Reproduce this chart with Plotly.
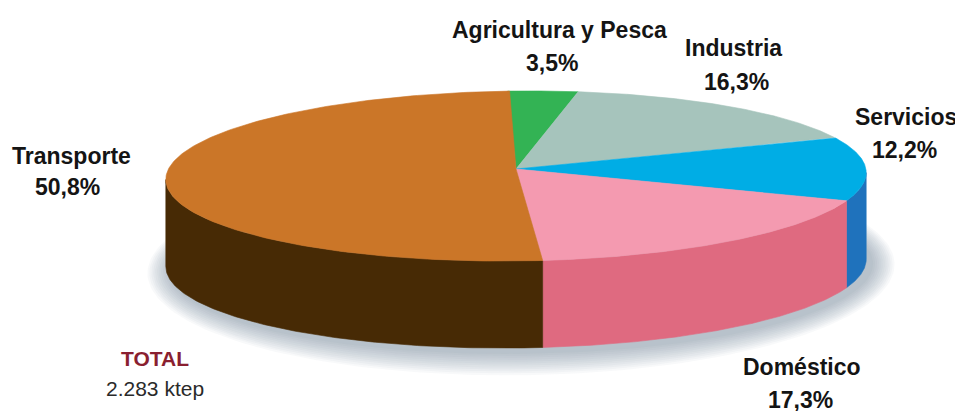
import numpy as np
import plotly.graph_objects as go

# Final energy consumption by sector, percent of total
sectors = ["Agricultura y Pesca", "Industria", "Servicios", "Doméstico", "Transporte"]
shares = [3.5, 16.3, 12.2, 17.3, 50.8]
total_label = "2.283 ktep"

top_colors = ["#33B354", "#A6C4BC", "#00ADE5", "#F49AB0", "#CB7628"]
wall_colors = ["#2A8F43", "#86A39C", "#1F72BC", "#DF6A80", "#472A05"]

# Centre of each sector's two text lines, in pixels
name_xy = [(559, 30), (733, 48), (906, 117), (802, 367), (71, 156)]
value_xy = [(552, 63), (736, 82), (904, 150), (800, 400), (67, 187)]

W, H = 955, 411
CX, CY = 516, 169      # projected centre of the disc
RX, RY = 349, 84.4     # disc radii on screen
PERSP = 0.0824         # foreshortening of the far side
DEPTH = 87             # height of the side wall
START_DEG = -1.5       # where the first sector begins, clockwise from the top


def project(theta):
    """Map clockwise disc angles (radians, 0 = far side) to screen positions."""
    u, v = np.sin(theta), np.cos(theta)
    w = 1 + PERSP * v
    return CX + RX * u / w, CY - (RY * v + 3.5 * u) / w


def filled(x, y, color):
    return go.Scatter(
        x=x, y=y, mode="lines", fill="toself", fillcolor=color,
        line=dict(color=color, width=0.6), hoverinfo="skip", showlegend=False,
    )


edges = np.radians(START_DEG + 3.6 * np.concatenate([[0], np.cumsum(shares)]))

# The wall only shows between the widest points of the disc
probe = np.linspace(edges[0], edges[-1], 4000)
probe_x, _ = project(probe)
vis_from, vis_to = probe[np.argmax(probe_x)], probe[np.argmin(probe_x)]

fig = go.Figure()

# Soft cast shadow, built up from nested translucent outlines
ring = np.linspace(0, 2 * np.pi, 240)
for grow in range(24, 0, -2):
    rx, ry = project(ring)
    fig.add_trace(go.Scatter(
        x=(rx - CX) * (1 + grow / 360) + CX + 5,
        y=(ry - CY) * (1 + grow / 95) + CY + DEPTH + 4,
        mode="lines", fill="toself", fillcolor="rgba(95,110,130,0.045)",
        line=dict(width=0), hoverinfo="skip", showlegend=False,
    ))

# Side walls
for i, color in enumerate(wall_colors):
    a, b = max(edges[i], vis_from), min(edges[i + 1], vis_to)
    if b <= a:
        continue
    ax, ay = project(np.linspace(a, b, 160))
    fig.add_trace(filled(
        np.concatenate([ax, ax[::-1], ax[:1]]),
        np.concatenate([ay, ay[::-1] + DEPTH, ay[:1]]),
        color,
    ))

# Top faces
for i, color in enumerate(top_colors):
    ax, ay = project(np.linspace(edges[i], edges[i + 1], 200))
    fig.add_trace(filled(
        np.concatenate([[CX], ax, [CX]]),
        np.concatenate([[CY], ay, [CY]]),
        color,
    ))

LABEL_FONT = dict(family="Liberation Sans Narrow, Liberation Sans, sans-serif", size=23, color="#141414")


def add_text(text, xy, font):
    fig.add_annotation(
        x=xy[0], y=xy[1], text=text, showarrow=False,
        xanchor="center", yanchor="middle", font=font,
    )


for name, share, n_xy, v_xy in zip(sectors, shares, name_xy, value_xy):
    add_text(f"<b>{name}</b>", n_xy, LABEL_FONT)
    add_text("<b>" + f"{share:.1f}".replace(".", ",") + "%</b>", v_xy, LABEL_FONT)

add_text("<b>TOTAL</b>", (155, 358), dict(family="Liberation Sans", size=21, color="#8A1F30"))
add_text(total_label, (155, 388), dict(family="Liberation Sans", size=21, color="#2A2A2A"))

fig.update_layout(
    width=W, height=H, margin=dict(l=0, r=0, t=0, b=0),
    paper_bgcolor="white", plot_bgcolor="white", showlegend=False,
    xaxis=dict(range=[0, W], visible=False, fixedrange=True),
    yaxis=dict(range=[H, 0], visible=False, fixedrange=True),
)

fig.write_html("out.html", config=dict(displayModeBar=False))
